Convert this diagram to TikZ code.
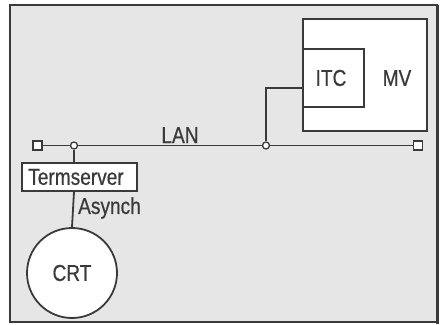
\documentclass[tikz,border=0pt]{standalone}
\usepackage{fontspec}
\setmainfont[FakeStretch=0.83,FakeBold=0.6]{Liberation Sans}
\definecolor{bgray}{HTML}{E6E6E6}
\definecolor{ink}{HTML}{3A3A3A}
\begin{document}
\begin{tikzpicture}[x=1pt,y=-1pt,
  line/.style={draw=ink,line width=1.8pt},
  boxw/.style={line,fill=white,inner sep=0pt},
  lbl/.style={text=ink,font=\fontsize{23}{25}\selectfont,inner sep=0pt},
  term/.style={line,fill=white,minimum size=9pt,inner sep=0pt},
  junc/.style={circle,line,fill=white,minimum size=7pt,inner sep=0pt,line width=1.3pt}]
\useasboundingbox (0,0) rectangle (444,324);
\fill[white] (0,0) rectangle (444,324);
% frame
\draw[line,fill=bgray,line width=2pt] (10,5) rectangle (437,322);
\draw[draw=ink,line width=3pt] (437,5) -- (437,324);
% MV and ITC
\node[boxw,minimum width=124pt,minimum height=112pt] (mv) at (365,75) {};
\node[boxw,minimum width=61pt,minimum height=58pt] (itc) at (333.5,78) {};
\node[lbl] (itct) at (331,78) {ITC};
\node[lbl] (mvt) at (397,78) {MV};
% LAN
\node[term] (tl) at (37.5,145.5) {};
\node[term] (tr) at (418,145.5) {};
\draw[line] (tl) -- (tr);
\node[junc] (j1) at (74,145.5) {};
\node[junc] (j2) at (266,145.5) {};
\coordinate (c1) at (266,88);
\draw[line] (j2) -- (c1) -- (itc.west |- c1);
\node[lbl,anchor=base] (lan) at (180,143) {LAN};
% Termserver
\node[boxw,minimum width=115pt,minimum height=28pt] (ts) at (79.5,177) {};
\node[lbl] (tst) at (76,177) {Termserver};
\draw[line] (j1) -- (j1 |- ts.north);
% CRT
\node[circle,line,fill=white,minimum size=90pt,inner sep=0pt] (crt) at (72,273) {};
\node[lbl] (crtt) at (72,273) {CRT};
\draw[line] (ts.south -| j1) -- (crt.north);
\node[lbl,anchor=west] (asy) at (78,208) {Asynch};
\end{tikzpicture}
\end{document}
